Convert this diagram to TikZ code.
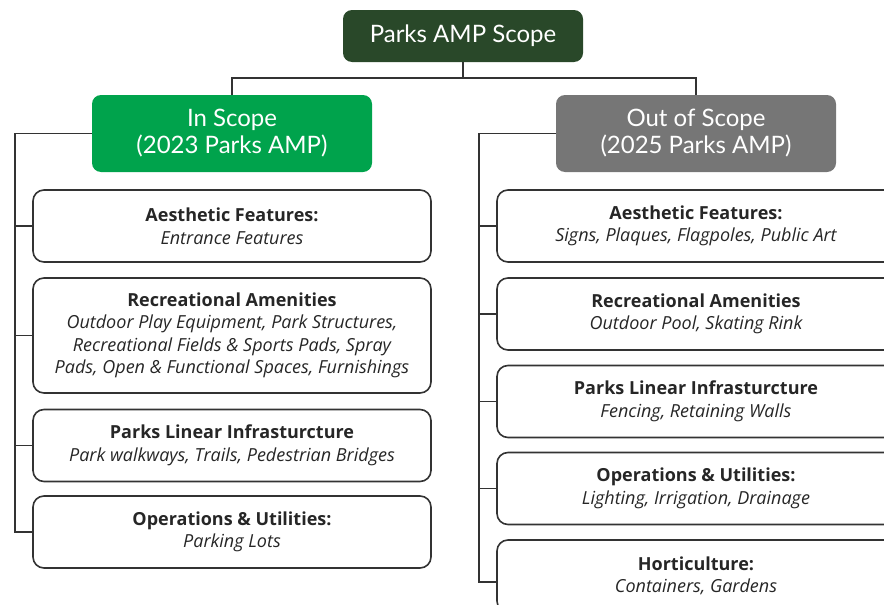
\documentclass[tikz,border=0pt]{standalone}
\usepackage{fontspec}
\setmainfont{Open Sans}
\newfontfamily\headfont{Lato}
\usepackage{tikz}

\definecolor{topgreen}{HTML}{294829}
\definecolor{ingreen}{HTML}{00A34C}
\definecolor{outgray}{HTML}{767676}
\definecolor{linegray}{HTML}{333333}

\tikzset{
	headbox/.style={rounded corners=9pt, text=white, minimum width=280pt, minimum height=77pt, align=center, font=\headfont\fontsize{24}{27}\selectfont},
	itembox/.style={draw=linegray, line width=1.6pt, rounded corners=11pt, minimum width=398pt, minimum height=72pt, align=center, text=black!85, font=\fontsize{18}{22.5}\selectfont},
	link/.style={draw=linegray, line width=1.4pt}
}

\begin{document}
\begin{tikzpicture}[x=1pt,y=-1pt]
		\useasboundingbox (0,0) rectangle (884,605);
		
		\node[headbox, fill=topgreen, minimum width=240pt, minimum height=52pt] (scope) at (463,36) {Parks AMP Scope};
		\node[headbox, fill=ingreen] (ins) at (232,133.5) {In Scope\\(2023 Parks AMP)};
		\node[headbox, fill=outgray] (outs) at (696,133.5) {Out of Scope\\(2025 Parks AMP)};
		
		\coordinate (split) at (463,78);
		\draw[link] (scope.south) -- (split);
		\draw[link] (split) -| (ins.north);
		\draw[link] (split) -| (outs.north);
		
		\node[itembox] (inaes) at (232,226) {\bfseries Aesthetic Features:\\\itshape Entrance Features};
		\node[itembox, minimum height=115pt] (inrec) at (232,335.5) {\bfseries Recreational Amenities\\\itshape Outdoor Play Equipment, Park Structures,\\\itshape Recreational Fields \& Sports Pads, Spray\\\itshape Pads, Open \& Functional Spaces, Furnishings};
		\node[itembox] (inlin) at (232,445.5) {\bfseries Parks Linear Infrasturcture\\\itshape Park walkways, Trails, Pedestrian Bridges};
		\node[itembox] (inops) at (232,532) {\bfseries Operations \& Utilities:\\\itshape Parking Lots};
		
		\coordinate (inspine) at (15,532);
		\draw[link] (ins.west) -| (inspine) -- (inops.west);
		\draw[link] (inaes.west) -- (inaes.west -| inspine);
		\draw[link] (inrec.west) -- (inrec.west -| inspine);
		\draw[link] (inlin.west) -- (inlin.west -| inspine);
		
		\node[itembox] (outaes) at (696,226) {\bfseries Aesthetic Features:\\\itshape Signs, Plaques, Flagpoles, Public Art};
		\node[itembox] (outrec) at (696,314) {\bfseries Recreational Amenities\\\itshape Outdoor Pool, Skating Rink};
		\node[itembox] (outlin) at (696,401.5) {\bfseries Parks Linear Infrasturcture\\\itshape Fencing, Retaining Walls};
		\node[itembox] (outops) at (696,488.5) {\bfseries Operations \& Utilities:\\\itshape Lighting, Irrigation, Drainage};
		\node[itembox] (outhor) at (696,576) {\bfseries Horticulture:\\\itshape Containers, Gardens};
		
		\coordinate (outspine) at (479,582);
		\draw[link] (outs.west) -| (outspine) -- (outspine -| outhor.west);
		\draw[link] (outaes.west) -- (outaes.west -| outspine);
		\draw[link] (outrec.west) -- (outrec.west -| outspine);
		\draw[link] (outlin.west) -- (outlin.west -| outspine);
		\draw[link] (outops.west) -- (outops.west -| outspine);
		
	\end{tikzpicture}
\end{document}
